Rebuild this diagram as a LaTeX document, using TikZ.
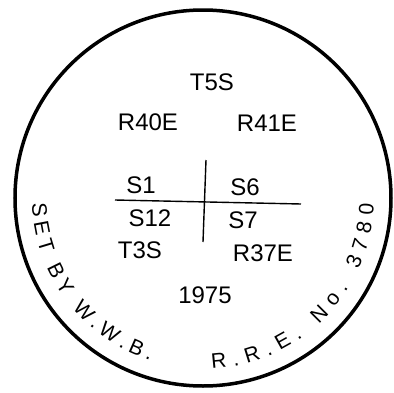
\documentclass[tikz,border=0pt]{standalone}
\usepackage{fontspec}
\setmainfont{Liberation Sans}
\usetikzlibrary{decorations.text}
\newcommand\arcfnt{\fontsize{21}{21}\selectfont}
\tikzset{
  lbl/.style={inner sep=0pt, text depth=0pt, font=\fontsize{24}{24}\selectfont},
  rim/.style={line width=3.5pt},
  rule/.style={line width=1.4pt},
}
\begin{document}
\begin{tikzpicture}[x=1pt,y=1pt]
\useasboundingbox (-203,-194) rectangle (191,198);
\draw[rim] (0,0) circle[radius=188];
\node[lbl] (t5s) at (9,116) {T5S};
\node[lbl] (r40e) at (-55,76) {R40E};
\node[lbl] (r41e) at (64,75) {R41E};
\node[lbl] (s1) at (-62,13) {S1};
\node[lbl] (s6) at (42,11) {S6};
\node[lbl] (s12) at (-53,-20) {S12};
\node[lbl] (s7) at (40,-22) {S7};
\node[lbl] (t3s) at (-63,-52) {T3S};
\node[lbl] (r37e) at (60,-55) {R37E};
\node[lbl] (yr) at (2,-97) {1975};
\coordinate (hl) at (-88,-2);
\coordinate (hr) at (98,-6);
\coordinate (vt) at (3,38);
\coordinate (vb) at (0,-44);
\draw[rule] (hl) -- (hr);
\draw[rule] (vt) -- (vb);
\path[decorate, font=\arcfnt, decoration={text along path, text align={fit to path},
  text={|\arcfnt|SET BY W.W.B.}}]
  (182:171) arc[start angle=182, end angle=252, radius=171];
\path[decorate, font=\arcfnt, decoration={text along path, text align={fit to path},
  text={|\arcfnt|R.R.E. No. 3780}}]
  (273:171) arc[start angle=273, end angle=358, radius=171];
\end{tikzpicture}
\end{document}
